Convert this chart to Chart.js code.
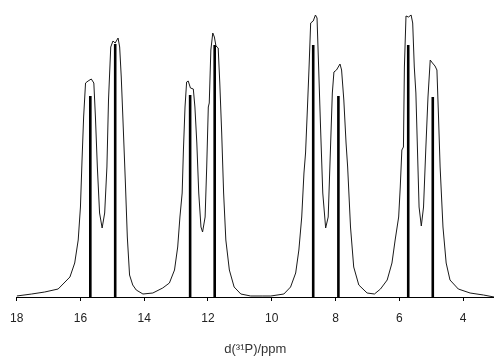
<!DOCTYPE html>
<html>
<head>
<meta charset="utf-8">
<script src="https://cdn.jsdelivr.net/npm/chart.js@4"></script>
<style>
  html, body { margin: 0; padding: 0; background: #fff; }
  #wrap { width: 494px; height: 360px; }
</style>
</head>
<body>
<div id="wrap"><canvas id="grafico"></canvas></div>
<script>
// spectrum trace (ppm, intensity in arbitrary units)
const specPpm = [18.00, 17.53, 17.12, 16.70, 16.33, 16.18, 16.07, 16.00, 15.95, 15.90,
  15.84, 15.76, 15.66, 15.58, 15.53, 15.47, 15.40, 15.32, 15.24, 15.17,
  15.12, 15.05, 14.98, 14.91, 14.82, 14.77, 14.72, 14.67, 14.59, 14.53,
  14.46, 14.36, 14.25, 14.04, 13.73, 13.42, 13.21, 13.05, 12.95, 12.88,
  12.81, 12.77, 12.72, 12.67, 12.62, 12.55, 12.46, 12.41, 12.35, 12.29,
  12.22, 12.17, 12.09, 12.04, 11.99, 11.96, 11.91, 11.85, 11.80, 11.75,
  11.68, 11.63, 11.57, 11.51, 11.44, 11.33, 11.18, 10.97, 10.66, 10.30,
  10.03, 9.62, 9.41, 9.25, 9.15, 9.06, 8.99, 8.94, 8.88, 8.83,
  8.78, 8.70, 8.63, 8.58, 8.53, 8.47, 8.40, 8.31, 8.23, 8.16,
  8.10, 8.05, 7.97, 7.86, 7.81, 7.74, 7.67, 7.62, 7.53, 7.43,
  7.27, 7.01, 6.78, 6.59, 6.38, 6.23, 6.13, 6.02, 5.97, 5.92,
  5.87, 5.84, 5.79, 5.71, 5.63, 5.58, 5.53, 5.48, 5.43, 5.38,
  5.31, 5.24, 5.17, 5.10, 5.03, 4.96, 4.88, 4.82, 4.77, 4.72,
  4.63, 4.53, 4.41, 4.15, 3.78, 3.36, 3.03];
const specInt = [1, 3, 5, 8, 20, 34, 57, 90, 137, 180,
  214, 216, 218, 214, 180, 130, 84, 69, 84, 130,
  197, 250, 256, 254, 259, 250, 220, 180, 114, 60,
  22, 12, 7, 3, 4, 9, 14, 27, 50, 80,
  104, 147, 190, 215, 216, 209, 208, 190, 154, 104,
  70, 65, 80, 130, 190, 194, 247, 264, 260, 251,
  249, 214, 164, 104, 57, 27, 10, 3, 1, 1,
  1, 3, 10, 24, 47, 80, 124, 144, 190, 230,
  274, 276, 282, 279, 230, 170, 104, 69, 80, 147,
  204, 225, 227, 233, 227, 197, 154, 130, 70, 30,
  12, 4, 3, 8, 17, 34, 57, 80, 110, 147,
  150, 230, 281, 280, 282, 274, 230, 204, 147, 90,
  71, 90, 147, 200, 237, 234, 231, 227, 180, 130,
  70, 34, 17, 8, 4, 2, 0];

// stick spectrum (calculated line positions)
const stickPpm = [15.69, 14.91, 12.56, 11.79, 8.70, 7.91, 5.72, 4.95];
const stickInt = [201, 253, 202, 252, 252, 201, 252, 200];

const tickValues = [18, 16, 14, 12, 10, 8, 6, 4];

const ppmMin = 3.03;
const ppmMax = 18;

function montarPontos() {
    return specPpm.map((p, i) => ({ x: p, y: specInt[i] }));
}

function montarSticks() {
    const pts = [];
    stickPpm.forEach((p, i) => {
        pts.push({ x: p, y: 0 });
        pts.push({ x: p, y: stickInt[i] });
        pts.push({ x: p, y: null });
    });
    return pts;
}

const ctx = document.getElementById("grafico");

new Chart(ctx, {
    type: "scatter",
    data: {
        datasets: [
            {
                data: montarPontos(),
                showLine: true,
                borderColor: "#1a1a1a",
                borderWidth: 1,
                pointRadius: 0,
                tension: 0
            },
            {
                data: montarSticks(),
                showLine: true,
                spanGaps: false,
                borderColor: "#000",
                borderWidth: 2.6,
                borderCapStyle: "butt",
                pointRadius: 0
            }
        ]
    },
    options: {
        responsive: true,
        maintainAspectRatio: false,
        animation: false,
        layout: { padding: { left: 15, right: 0, top: 7, bottom: 3 } },
        plugins: {
            legend: { display: false },
            tooltip: { enabled: false }
        },
        scales: {
            x: {
                type: "linear",
                reverse: true,
                min: ppmMin,
                max: ppmMax,
                afterBuildTicks: scale => {
                    scale.ticks = tickValues.map(v => ({ value: v }));
                },
                border: { display: true, color: "#000", width: 1 },
                grid: {
                    drawOnChartArea: false,
                    drawTicks: true,
                    tickLength: 4,
                    color: "#000"
                },
                ticks: {
                    padding: 10,
                    color: "#222",
                    maxRotation: 0,
                    font: { family: "Liberation Sans", size: 12 }
                },
                title: {
                    display: true,
                    text: "d(\u00B3\u00B9P)/ppm",
                    color: "#333",
                    padding: { top: 6, bottom: 0 },
                    font: { family: "Liberation Sans", size: 13 }
                }
            },
            y: {
                display: false,
                min: 0,
                max: 290
            }
        }
    }
});
</script>
</body>
</html>
